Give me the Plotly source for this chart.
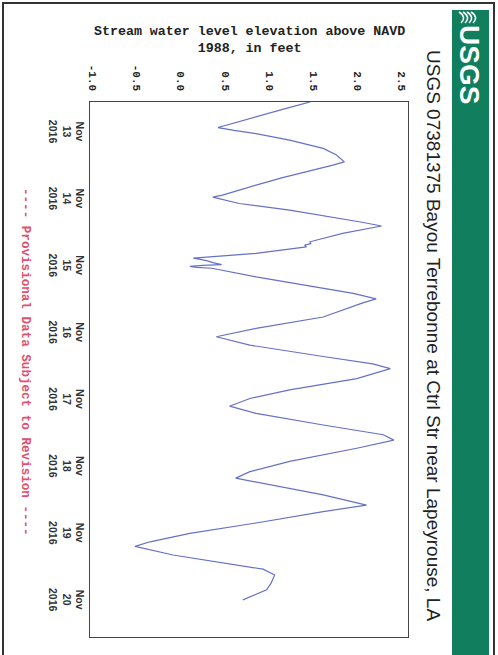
import plotly.graph_objects as go

# ---- data ----
times = [
    "2016-11-12 12:00", "2016-11-12 13:00", "2016-11-12 15:30", "2016-11-12 18:10", "2016-11-12 20:30",
    "2016-11-12 22:00", "2016-11-12 23:00", "2016-11-13 00:10", "2016-11-13 02:30", "2016-11-13 05:30",
    "2016-11-13 07:50", "2016-11-13 10:20", "2016-11-13 11:30", "2016-11-13 13:50", "2016-11-13 16:00",
    "2016-11-13 18:40", "2016-11-13 22:15", "2016-11-13 23:00", "2016-11-14 01:15", "2016-11-14 03:40",
    "2016-11-14 06:35", "2016-11-14 08:00", "2016-11-14 09:20", "2016-11-14 12:00", "2016-11-14 15:00",
    "2016-11-14 15:40", "2016-11-14 16:10", "2016-11-14 16:50", "2016-11-14 19:10", "2016-11-14 20:24",
    "2016-11-14 20:50", "2016-11-14 21:20", "2016-11-14 21:50", "2016-11-14 22:30", "2016-11-14 23:10",
    "2016-11-14 23:30", "2016-11-14 23:50", "2016-11-15 00:10", "2016-11-15 00:30", "2016-11-15 03:35",
    "2016-11-15 07:40", "2016-11-15 09:30", "2016-11-15 11:30", "2016-11-15 13:00", "2016-11-15 18:00",
    "2016-11-15 22:05", "2016-11-16 01:05", "2016-11-16 04:05", "2016-11-16 08:10", "2016-11-16 10:50",
    "2016-11-16 12:30", "2016-11-16 16:05", "2016-11-16 20:10", "2016-11-16 23:15", "2016-11-17 02:00",
    "2016-11-17 04:35", "2016-11-17 08:45", "2016-11-17 12:15", "2016-11-17 14:10", "2016-11-17 17:05",
    "2016-11-17 21:50", "2016-11-18 01:30", "2016-11-18 03:50", "2016-11-18 06:20", "2016-11-18 09:50",
    "2016-11-18 13:30", "2016-11-18 15:50", "2016-11-18 19:55", "2016-11-18 23:40", "2016-11-19 02:40",
    "2016-11-19 04:20", "2016-11-19 07:25", "2016-11-19 10:20", "2016-11-19 12:30", "2016-11-19 14:35",
    "2016-11-19 17:30", "2016-11-19 19:55", "2016-11-19 23:30",
]
levels = [
    1.52, 1.44, 1.15, 0.85, 0.58,
    0.42, 0.60, 0.85, 1.23, 1.61,
    1.76, 1.85, 1.72, 1.42, 1.15,
    0.85, 0.47, 0.36, 0.66, 1.23,
    1.80, 2.05, 2.27, 1.83, 1.46,
    1.47, 1.40, 1.42, 0.85, 0.29,
    0.14, 0.22, 0.30, 0.36, 0.46,
    0.25, 0.10, 0.18, 0.35, 0.85,
    1.61, 1.95, 2.21, 2.05, 1.61,
    0.85, 0.40, 0.78, 1.61, 2.17,
    2.37, 1.99, 1.23, 0.78, 0.55,
    0.85, 1.61, 2.29, 2.41, 1.99,
    1.23, 0.78, 0.62, 1.04, 1.61,
    2.10, 1.61, 0.85, 0.10, -0.35,
    -0.52, -0.09, 0.47, 0.93, 1.06,
    1.02, 0.97, 0.70,
]

value_ticks = [-1.0, -0.5, 0.0, 0.5, 1.0, 1.5, 2.0, 2.5]
value_tick_labels = ["-1.0", "-0.5", "0.0", "0.5", "1.0", "1.5", "2.0", "2.5"]
date_ticks = ["2016-11-13", "2016-11-14", "2016-11-15", "2016-11-16",
              "2016-11-17", "2016-11-18", "2016-11-19", "2016-11-20"]
date_tick_labels = ["Nov<br>13<br>2016", "Nov<br>14<br>2016", "Nov<br>15<br>2016", "Nov<br>16<br>2016",
                    "Nov<br>17<br>2016", "Nov<br>18<br>2016", "Nov<br>19<br>2016", "Nov<br>20<br>2016"]

axis_title = "Stream water level elevation above NAVD<br>1988, in feet"
chart_title = "USGS 07381375 Bayou Terrebonne at Ctrl Str near Lapeyrouse, LA"
disclaimer = "---- Provisional Data Subject to Revision ----"

# ---- layout helpers (pixel -> paper) ----
W, H = 498, 655
L, R, T, B = 90, 90, 102, 18
PW, PH = W - L - R, H - T - B


def px(x):
    return (x - L) / PW


def py(y):
    return 1 - (y - T) / PH


mono = "Liberation Mono, DejaVu Sans Mono, monospace"
sans = "Liberation Sans, Arial, sans-serif"

fig = go.Figure()
fig.add_trace(go.Scatter(x=levels, y=times, mode="lines",
                         line=dict(color="#6670c8", width=1.2), showlegend=False))

fig.update_layout(
    width=W, height=H,
    margin=dict(l=L, r=R, t=T, b=B),
    paper_bgcolor="white", plot_bgcolor="white",
    xaxis=dict(side="top", range=[-1.03, 2.57], tickvals=value_ticks, ticktext=value_tick_labels,
               tickangle=90, showgrid=False, zeroline=False, showline=True, mirror=True,
               linecolor="#444", linewidth=1, ticks="", ticklabelstandoff=6,
               tickfont=dict(family=mono, size=11, color="#222", weight="bold")),
    yaxis=dict(type="date", range=["2016-11-20 12:50", "2016-11-12 12:50"],
               tickvals=date_ticks, ticktext=date_tick_labels, tickangle=90,
               showgrid=False, zeroline=False, showline=True, mirror=True,
               linecolor="#444", linewidth=1, ticks="",
               tickfont=dict(family=sans, size=10.5, color="#333", weight="bold")),
)

annotations = [
    dict(text=axis_title, x=px(249), y=py(40), xref="paper", yref="paper", showarrow=False,
         xanchor="center", yanchor="middle",
         font=dict(family=mono, size=13.3, color="#222", weight="bold"), align="center"),
    dict(text=chart_title, x=px(434), y=py(335), xref="paper", yref="paper", showarrow=False,
         xanchor="center", yanchor="middle",
         textangle=90, font=dict(family=sans, size=19, color="#222")),
    dict(text=disclaimer, x=px(25), y=py(362), xref="paper", yref="paper", showarrow=False,
         xanchor="center", yanchor="middle",
         textangle=90, font=dict(family=mono, size=12.6, color="#e0506e", weight="bold")),
    dict(text="USGS", x=px(470), y=py(64), xref="paper", yref="paper", showarrow=False,
         xanchor="center", yanchor="middle",
         textangle=90, font=dict(family=sans, size=28, color="white", weight="bold")),
]
fig.update_layout(annotations=annotations)

shapes = [
    # outer frame
    dict(type="rect", xref="paper", yref="paper", x0=px(3), x1=px(494), y0=py(3), y1=py(662),
         line=dict(color="#333", width=2), fillcolor="rgba(0,0,0,0)", layer="below"),
    # green band
    dict(type="rect", xref="paper", yref="paper", x0=px(452), x1=px(489), y0=py(10), y1=py(660),
         line=dict(width=0), fillcolor="#117f5e", layer="below"),
]
# small wave logo
for k in range(4):
    off = k * 4
    shapes.append(dict(type="path", xref="paper", yref="paper",
                       path=f"M {px(459 + off)} {py(12)} Q {px(467 + off)} {py(17)} {px(461 + off)} {py(23)}",
                       line=dict(color="white", width=1.5)))
fig.update_layout(shapes=shapes)

fig.write_html("out.html", config={"displayModeBar": False},
               post_script="document.body.style.margin='0';document.body.style.padding='0';")
